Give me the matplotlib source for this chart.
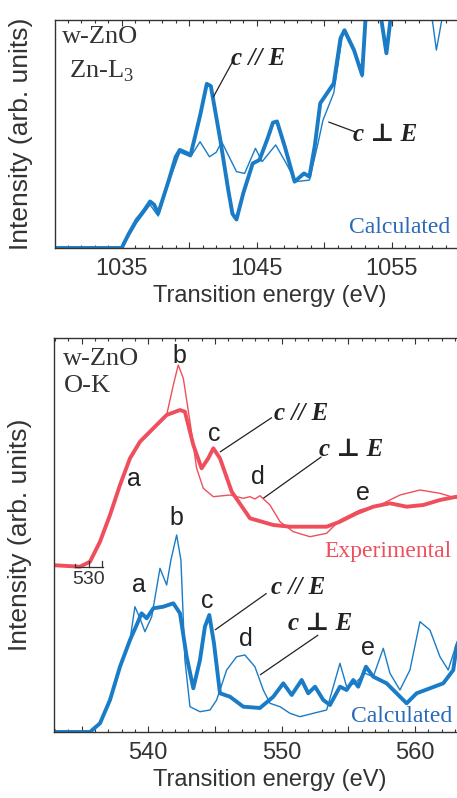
import matplotlib
matplotlib.use("Agg")
import matplotlib.pyplot as plt
from matplotlib.ticker import MultipleLocator, FuncFormatter

plt.rcParams["font.family"] = ["Liberation Sans", "DejaVu Sans"]
plt.rcParams["mathtext.fontset"] = "custom"
plt.rcParams["mathtext.rm"] = "Liberation Serif"

BLUE = "#1a7cc6"
BLUE_TXT = "#2a68b8"
RED = "#ef4f5c"
INK = "#333333"
SERIF = ["Liberation Serif", "DejaVu Serif"]

# ---- Zn-L3 edge (calculated) ----
znl_e_par = [1030.0, 1035.0, 1035.5, 1036.1, 1036.6, 1037.1, 1037.4, 1037.7, 1038.5, 1039.0,
             1039.3, 1039.7, 1040.1, 1040.8, 1041.3, 1041.6, 1042.3, 1042.9, 1043.2, 1043.5,
             1044.0, 1044.7, 1045.2, 1045.8, 1046.2, 1046.5, 1047.1, 1047.8, 1048.5, 1048.9,
             1049.3, 1049.7, 1050.7, 1051.2, 1051.5, 1052.2, 1052.8, 1053.1, 1053.6, 1054.1,
             1054.6, 1055.0, 1055.5, 1057.0, 1058.0, 1061.0]
znl_i_par = [0, 0, 0.06, 0.123, 0.16, 0.204, 0.19, 0.152, 0.30, 0.40,
             0.43, 0.42, 0.408, 0.58, 0.72, 0.71, 0.474, 0.25, 0.15, 0.125,
             0.24, 0.371, 0.386, 0.48, 0.55, 0.555, 0.44, 0.291, 0.327, 0.313,
             0.45, 0.635, 0.722, 0.92, 0.955, 0.868, 0.759, 1.05, 1.15, 1.05,
             0.854, 1.05, 1.2, 1.2, 1.1, 1.2]
znl_e_perp = [1030.0, 1035.0, 1035.5, 1036.1, 1036.6, 1037.1, 1037.7, 1038.5, 1039.3, 1040.1,
              1040.8, 1041.5, 1042.0, 1042.4, 1043.5, 1044.1, 1044.9, 1045.4, 1046.4, 1047.1,
              1047.9, 1048.9, 1049.5, 1049.9, 1050.7, 1051.4, 1052.2, 1052.8, 1053.1, 1053.6,
              1054.1, 1054.6, 1055.0, 1055.5, 1057.5, 1058.0, 1058.3, 1058.7, 1059.0, 1061.0]
znl_i_perp = [0, 0, 0.05, 0.11, 0.15, 0.19, 0.14, 0.29, 0.42, 0.40,
              0.466, 0.40, 0.42, 0.466, 0.335, 0.327, 0.437, 0.379, 0.452, 0.38,
              0.291, 0.298, 0.45, 0.56, 0.68, 0.955, 0.86, 0.75, 1.05, 1.15,
              1.05, 0.86, 1.05, 1.2, 1.2, 1.0, 0.868, 1.0, 1.2, 1.2]

# ---- O-K edge, experimental (drawn above the calculated spectra) ----
EXP_OFFSET = 1.65
ok_exp_e_par = [532.63, 534.88, 535.63, 536.38, 537.13, 537.88, 538.63, 539.38, 540.38, 541.38,
                542.38, 542.75, 543.38, 544.0, 544.5, 544.88, 545.38, 546.26, 547.63, 549.38,
                550.63, 551.88, 553.38, 554.38, 555.63, 556.88, 558.13, 559.38, 560.63, 561.88,
                563.13, 565.0]
ok_exp_i_par = [0.02, 0.003, 0.053, 0.253, 0.52, 0.82, 1.087, 1.253, 1.387, 1.52,
                1.57, 1.553, 1.22, 0.987, 1.087, 1.187, 1.087, 0.753, 0.487, 0.42,
                0.403, 0.403, 0.403, 0.453, 0.537, 0.603, 0.637, 0.603, 0.62, 0.67,
                0.703, 0.72]
ok_exp_e_perp = [532.63, 534.88, 535.63, 536.38, 537.13, 537.88, 538.63, 539.38, 540.38, 541.38,
                 541.88, 542.25, 542.63, 543.13, 543.63, 544.13, 544.88, 546.13, 547.13, 547.63,
                 548.0, 548.38, 549.13, 549.88, 550.88, 552.13, 553.38, 554.38, 555.88, 557.38,
                 558.88, 560.38, 561.88, 563.13, 565.0]
ok_exp_i_perp = [0.02, 0.003, 0.053, 0.253, 0.52, 0.82, 1.087, 1.253, 1.387, 1.52,
                 1.82, 2.02, 1.887, 1.453, 0.987, 0.787, 0.703, 0.72, 0.687, 0.703,
                 0.68, 0.713, 0.62, 0.453, 0.353, 0.303, 0.337, 0.47, 0.57, 0.62,
                 0.72, 0.77, 0.737, 0.687, 0.70]

# ---- O-K edge, calculated ----
ok_cal_e_par = [532.63, 535.63, 536.38, 537.13, 537.88, 538.63, 539.13, 539.5, 539.88, 540.38,
                541.13, 541.88, 542.38, 542.88, 543.38, 543.88, 544.25, 544.58, 544.93, 545.38,
                546.13, 547.13, 548.38, 549.38, 550.13, 550.76, 551.51, 552.0, 552.51, 553.13,
                553.63, 554.38, 554.88, 555.38, 555.75, 556.33, 556.88, 557.88, 558.63, 559.38,
                560.13, 561.13, 562.13, 562.88, 563.13, 563.6, 565.0]
ok_cal_i_par = [0, 0, 0.087, 0.32, 0.653, 0.92, 1.07, 1.187, 1.137, 1.237,
                1.253, 1.287, 1.187, 0.753, 0.437, 0.72, 1.053, 1.17, 0.887, 0.387,
                0.353, 0.253, 0.24, 0.353, 0.487, 0.37, 0.52, 0.387, 0.453, 0.32,
                0.27, 0.453, 0.42, 0.52, 0.453, 0.653, 0.553, 0.487, 0.387, 0.287,
                0.387, 0.437, 0.487, 0.62, 0.853, 1.0, 1.1]
ok_cal_e_perp = [532.63, 535.63, 536.38, 537.13, 537.88, 538.63, 539.0, 539.38, 539.75, 540.26,
                 540.88, 541.38, 541.7, 542.13, 542.45, 542.75, 543.13, 543.88, 544.63, 545.13,
                 545.88, 546.63, 547.25, 548.0, 548.63, 549.13, 549.88, 550.63, 551.38, 552.38,
                 553.38, 553.88, 554.38, 554.88, 555.5, 556.26, 556.88, 557.63, 558.13, 558.88,
                 559.63, 560.38, 561.13, 561.88, 562.5, 563.13, 563.6, 565.0]
ok_cal_i_perp = [0, 0, 0.087, 0.32, 0.653, 0.92, 1.253, 1.137, 1.003, 1.153,
                 1.637, 1.47, 1.72, 1.97, 1.72, 0.72, 0.253, 0.203, 0.22, 0.32,
                 0.62, 0.753, 0.77, 0.653, 0.42, 0.287, 0.253, 0.187, 0.153, 0.187,
                 0.22, 0.453, 0.687, 0.453, 0.487, 0.587, 0.553, 0.837, 0.587, 0.42,
                 0.62, 1.103, 1.02, 0.753, 0.62, 0.887, 1.05, 1.1]

PAR = r"c // E"
PERP = "c \u22a5 E"


def style_axis(ax, label_mod):
    for side in ("top", "bottom", "left", "right"):
        ax.spines[side].set_color(INK)
        ax.spines[side].set_linewidth(1.0)
    ax.xaxis.set_major_locator(MultipleLocator(5))
    ax.xaxis.set_minor_locator(MultipleLocator(1))
    ax.xaxis.set_major_formatter(
        FuncFormatter(lambda v, p: f"{v:.0f}" if round(v) % 10 == label_mod else ""))
    ax.tick_params(which="both", direction="in", top=True, bottom=True,
                   left=False, labelleft=False, color=INK, width=0.8,
                   labelsize=17, labelcolor=INK, pad=7)
    ax.tick_params(which="major", length=4)
    ax.tick_params(which="minor", length=2.2)
    ax.set_xlabel("Transition energy (eV)", fontsize=17, color=INK, labelpad=4)
    ax.set_ylabel("Intensity (arb. units)", fontsize=19, color=INK)
    ax.yaxis.set_label_coords(-0.052, 0.5)


def leader(ax, x0, y0, x1, y1):
    ax.plot([x0, x1], [y0, y1], color="#222222", lw=0.9, solid_capstyle="butt")


def pol_text(ax, x, y, s):
    ax.text(x, y, s, family=SERIF, style="italic", weight="bold", fontsize=18,
            ha="center", va="center", color="#222222")


fig = plt.figure(figsize=(4.57, 7.98), dpi=100)

# ---------------- top panel: Zn-L3 ----------------
ax1 = fig.add_axes([55 / 457, 550 / 798, 430 / 457, 228 / 798])
ax1.plot(znl_e_perp, znl_i_perp, color=BLUE, lw=1.0, solid_joinstyle="round")
ax1.plot(znl_e_par, znl_i_par, color=BLUE, lw=2.8, solid_joinstyle="round",
         solid_capstyle="round")
ax1.set_xlim(1030.06, 1061.9)
ax1.set_ylim(0, 1)
style_axis(ax1, 5)

ax1.text(1030.6, 0.925, "w-ZnO", family=SERIF, fontsize=19, ha="left", va="center", color=INK)
ax1.text(1031.1, 0.776, r"Zn-L$_3$", family=SERIF, fontsize=19, ha="left", va="center", color=INK)
pol_text(ax1, 1045.1, 0.833, PAR)
leader(ax1, 1041.78, 0.662, 1043.2, 0.816)
pol_text(ax1, 1054.5, 0.496, PERP)
leader(ax1, 1050.3, 0.553, 1052.3, 0.509)
ax1.text(1059.3, 0.092, "Calculated", family=SERIF, fontsize=17, ha="right", va="center",
         color=BLUE_TXT)

# ---------------- bottom panel: O-K ----------------
ax2 = fig.add_axes([54 / 457, 66 / 798, 431 / 457, 394 / 798])
exp_par = [v + EXP_OFFSET for v in ok_exp_i_par]
exp_perp = [v + EXP_OFFSET for v in ok_exp_i_perp]
ax2.plot(ok_exp_e_perp, exp_perp, color=RED, lw=1.0, solid_joinstyle="round")
ax2.plot(ok_exp_e_par, exp_par, color=RED, lw=2.8, solid_joinstyle="round")
ax2.plot(ok_cal_e_perp, ok_cal_i_perp, color=BLUE, lw=1.0, solid_joinstyle="round")
ax2.plot(ok_cal_e_par, ok_cal_i_par, color=BLUE, lw=2.8, solid_joinstyle="round")
ax2.set_xlim(532.93, 565.26)
ax2.set_ylim(0, 3.94)
style_axis(ax2, 0)

# small energy scale for the experimental spectrum
ax2.plot([534.5, 536.6], [EXP_OFFSET, EXP_OFFSET], color=INK, lw=0.9)
for xt, h in [(534.5, 0.03), (535.55, 0.06), (536.55, 0.06)]:
    ax2.plot([xt, xt], [EXP_OFFSET, EXP_OFFSET + h], color=INK, lw=0.9)
ax2.text(535.55, 1.52, "530", fontsize=14, ha="center", va="center", color=INK)

ax2.text(533.6, 3.73, "w-ZnO", family=SERIF, fontsize=19, ha="left", va="center", color=INK)
ax2.text(533.7, 3.46, "O-K", family=SERIF, fontsize=19, ha="left", va="center", color=INK)

for s, x, y in [("a", 538.93, 2.53), ("b", 542.3, 3.76), ("c", 544.93, 2.98),
                ("d", 548.25, 2.553), ("e", 556.07, 2.395),
                ("a", 539.3, 1.47), ("b", 542.08, 2.14), ("c", 544.44, 1.31),
                ("d", 547.29, 0.935), ("e", 556.48, 0.84)]:
    ax2.text(x, y, s, fontsize=18, ha="center", va="center", color="#222222")

pol_text(ax2, 551.5, 3.19, PAR)
leader(ax2, 545.38, 2.80, 549.28, 3.145)
pol_text(ax2, 555.2, 2.83, PERP)
leader(ax2, 548.63, 2.337, 553.0, 2.753)
ax2.text(562.78, 1.81, "Experimental", family=SERIF, fontsize=17, ha="right", va="center",
         color=RED)

pol_text(ax2, 551.23, 1.445, PAR)
leader(ax2, 545.0, 1.02, 548.88, 1.387)
pol_text(ax2, 552.88, 1.09, PERP)
leader(ax2, 548.38, 0.57, 552.75, 0.97)
ax2.text(562.78, 0.155, "Calculated", family=SERIF, fontsize=17, ha="right", va="center",
         color=BLUE_TXT)

fig.savefig("out.png", dpi=100)
